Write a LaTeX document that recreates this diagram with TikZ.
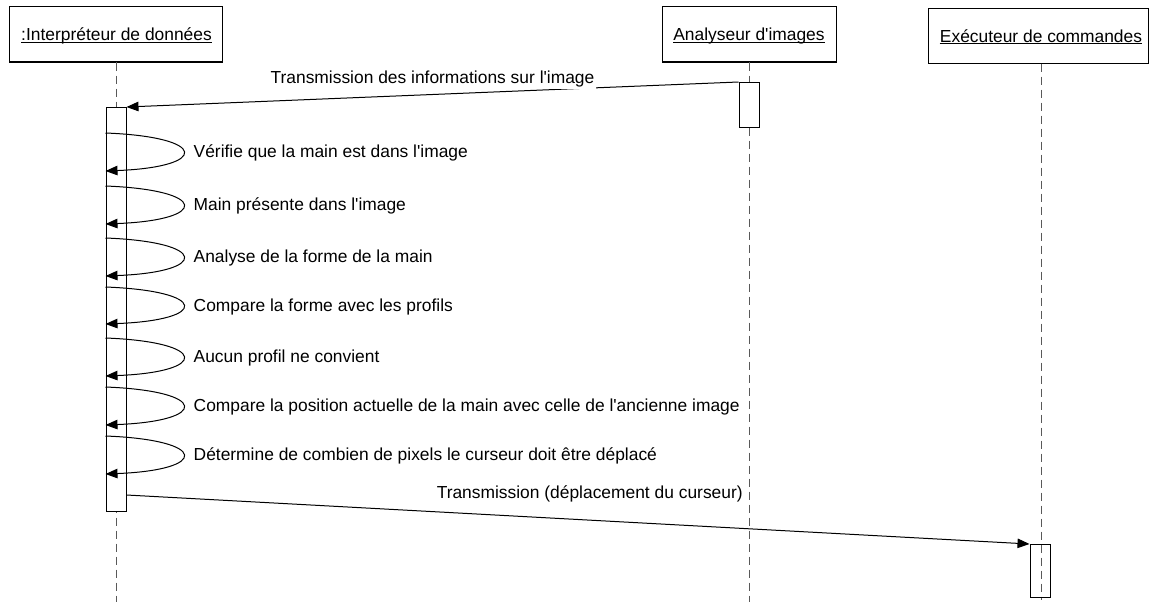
\documentclass[tikz,border=0pt]{standalone}
\usepackage{fontspec}
\setmainfont{Liberation Sans}
\usetikzlibrary{arrows.meta,calc}
\begin{document}
\begin{tikzpicture}[x=1pt,y=-1pt,
  head/.style={draw, line width=1pt, minimum height=55pt, inner sep=0pt, fill=white},
  htext/.style={inner sep=0pt, font=\fontsize{17.4}{20}\selectfont, anchor=base},
  uline/.style={line width=0.9pt},
  life/.style={draw=black!65, line width=1pt, dash pattern=on 8pt off 5pt},
  act/.style={draw, line width=1pt, fill=white, minimum width=20pt, inner sep=0pt, anchor=north},
  msg/.style={line width=1pt, -{Triangle[length=12pt,width=9.5pt]}},
  mlbl/.style={font=\fontsize{17.4}{20}\selectfont, inner sep=1.5pt},
]
\useasboundingbox (0,0) rectangle (1150,602);

% heads
\node[head, minimum width=213pt] (p1) at (115.5,34.5) {};
\node[head, minimum width=174pt] (p2) at (749,34.5) {};
\node[head, minimum width=220pt] (p3) at (1038,36) {};
\node[htext] (t1) at (116.5,41) {:Interpréteur de données};
\node[htext] (t2) at (749,41) {Analyseur d\textquotesingle images};
\node[htext] (t3) at (1041,42) {Exécuteur de commandes};
\foreach \t in {t1,t2,t3}
  \draw[uline] ([yshift=-1.5pt]\t.base west) -- ([yshift=-1.5pt]\t.base east);

% lifelines
\coordinate (e1) at (116,602);
\coordinate (e2) at (749,602);
\coordinate (b3) at (1041,63.5);
\coordinate (e3) at (1041,600);
\draw[life] (p1.south -| e1) -- (e1);
\draw[life] (p2.south) -- (e2);
\draw[life] (b3) -- (e3);

% activations
\node[act, minimum height=404pt] (a1) at (116,107) {};
\node[act, minimum height=45pt] (a2) at (749,82) {};
\node[act, minimum height=53pt, fill=none] (a3) at (1040,544) {};

% message 1
\draw[msg] (a2.north west) -- (a1.north east)
  node[mlbl, pos=0.5, anchor=south, yshift=5pt, fill=white] (m1l) {Transmission des informations sur l\textquotesingle image};

% self messages
\foreach \s/\t/\lab [count=\i] in {
  133/171/{Vérifie que la main est dans l\textquotesingle image},
  186/224/{Main présente dans l\textquotesingle image},
  238/276/{Analyse de la forme de la main},
  287/324/{Compare la forme avec les profils},
  338/376/{Aucun profil ne convient},
  387/425/{Compare la position actuelle de la main avec celle de l\textquotesingle ancienne image},
  436/474/{Détermine de combien de pixels le curseur doit être déplacé}}
{
  \draw[msg] (a1.west |- 0,\s) .. controls (209,\s+4) and (209,\t-4) .. (a1.west |- 0,\t);
  \node[mlbl, anchor=west] (sl\i) at (192,{(\s+\t)/2+1}) {\lab};
}

% message 2
\coordinate (m2) at (a1.east |- 0,495);
\draw[msg] (m2) -- (a3.north west)
  node[mlbl, pos=0.513, anchor=south, yshift=16pt] (m2l) {Transmission (déplacement du curseur)};
\end{tikzpicture}
\end{document}
